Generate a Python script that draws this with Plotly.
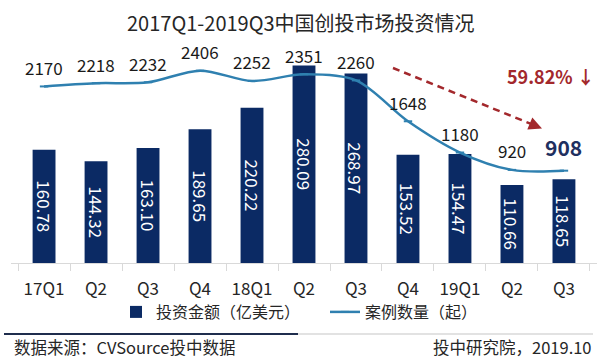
import plotly.graph_objects as go

# ---------------- data ----------------
categories = ["17Q1", "Q2", "Q3", "Q4", "18Q1", "Q2 ", "Q3 ", "Q4 ", "19Q1", "Q2  ", "Q3  "]
tick_labels = ["17Q1", "Q2", "Q3", "Q4", "18Q1", "Q2", "Q3", "Q4", "19Q1", "Q2", "Q3"]
invest_amount = [160.78, 144.32, 163.10, 189.65, 220.22, 280.09, 268.97, 153.52, 154.47, 110.66, 118.65]
deal_count = [2170, 2218, 2232, 2406, 2252, 2351, 2260, 1648, 1180, 920, 908]

title_text = "2017Q1-2019Q3中国创投市场投资情况"
bar_name = "投资金额（亿美元）"
line_name = "案例数量（起）"
drop_text = "59.82% ↓"
source_left = "数据来源：CVSource投中数据"
source_right = "投中研究院，2019.10"

# ---------------- layout geometry ----------------
W, H = 610, 360
L, R, T, B = 11, 13, 50, 97
PW, PH = W - L - R, H - T - B
FONT = "Noto Sans CJK SC, Noto Sans, sans-serif"

def px_x(p):
    return (p - L) / PW

def px_y(p):
    return (H - B - p) / PH

BAR_COLOR = "#0b2a64"
LINE_COLOR = "#2f80b0"
RED = "#a3282c"

fig = go.Figure()

fig.add_trace(go.Bar(
    x=categories, y=invest_amount, name=bar_name,
    marker=dict(color=BAR_COLOR, line=dict(width=0)),
    texttemplate="%{y:.2f}", textposition="inside", textangle=90,
    insidetextanchor="middle", constraintext="none",
    textfont=dict(color="white", size=17, family=FONT),
    yaxis="y", legend="legend",
))

fig.add_trace(go.Scatter(
    x=categories, y=deal_count, name=line_name, mode="lines+markers",
    line=dict(color=LINE_COLOR, width=2.5, shape="spline", smoothing=0.9),
    marker=dict(symbol="line-ew", size=6, line=dict(color=LINE_COLOR, width=2)),
    yaxis="y2", legend="legend2",
))

annotations = []
for i, (c, v) in enumerate(zip(categories, deal_count)):
    last = i == len(categories) - 1
    annotations.append(dict(
        x=c, y=v, xref="x", yref="y2", text=str(v), showarrow=False,
        yshift=24 if last else 19, yanchor="middle",
        font=dict(size=21 if last else 17, color="#1f3060" if last else "#1a1a1a",
                  family=FONT, weight="bold" if last else "normal"),
    ))

# drop annotation
annotations.append(dict(
    x=px_x(551), y=px_y(76), xref="paper", yref="paper", text=drop_text,
    showarrow=False, xanchor="center", yanchor="middle",
    font=dict(size=18, color=RED, family=FONT, weight="bold"),
))
# arrow head of the dashed arrow
annotations.append(dict(
    x=px_x(542), y=px_y(128.5), xref="paper", yref="paper", text="",
    showarrow=True, arrowhead=2, arrowsize=1.2, arrowwidth=2.2, arrowcolor=RED,
    ax=-11, ay=-4.5, standoff=0,
))
# title
annotations.append(dict(
    x=px_x(301), y=px_y(23), xref="paper", yref="paper", text=title_text,
    showarrow=False, xanchor="center", yanchor="middle",
    font=dict(size=20, color="#262626", family=FONT),
))
# source texts
annotations.append(dict(
    x=px_x(12), y=px_y(347), xref="paper", yref="paper", text=source_left,
    showarrow=False, xanchor="left", yanchor="middle",
    font=dict(size=16.5, color="#262626", family=FONT),
))
annotations.append(dict(
    x=px_x(594), y=px_y(347), xref="paper", yref="paper", text=source_right,
    showarrow=False, xanchor="right", yanchor="middle",
    font=dict(size=16.5, color="#262626", family=FONT),
))

shapes = [
    # dashed red trend line
    dict(type="line", xref="paper", yref="paper",
         x0=px_x(393), y0=px_y(68), x1=px_x(535), y1=px_y(125.5),
         line=dict(color=RED, width=2.5, dash="7px,5px")),
    # footer separator lines
    dict(type="line", xref="paper", yref="paper",
         x0=px_x(4), y0=px_y(334), x1=px_x(298), y1=px_y(334),
         line=dict(color="#1f2d4d", width=2)),
    dict(type="line", xref="paper", yref="paper",
         x0=px_x(298), y0=px_y(334), x1=px_x(593), y1=px_y(334),
         line=dict(color="#d9d9d9", width=1.5)),
]

y_top = PH / 0.705
y2_lo = (231.3 - (H - B)) / 0.06676
y2_hi = (231.3 - T) / 0.06676

legend_common = dict(orientation="h", yanchor="middle", xanchor="left",
                     font=dict(size=16, color="#262626", family=FONT), itemwidth=30,
                     bgcolor="rgba(0,0,0,0)", borderwidth=0)

fig.update_layout(
    width=W, height=H,
    margin=dict(l=L, r=R, t=T, b=B, pad=0),
    paper_bgcolor="white", plot_bgcolor="white",
    font=dict(family=FONT, color="#262626"),
    bargap=0.56,
    showlegend=True,
    legend=dict(x=px_x(116), y=px_y(312), **legend_common),
    legend2=dict(x=px_x(325), y=px_y(312), **legend_common),
    xaxis=dict(
        type="category", tickvals=categories, ticktext=tick_labels,
        showline=True, linecolor="#d9d9d9", linewidth=1,
        ticks="outside", tickson="boundaries", ticklen=7, tickcolor="#d9d9d9",
        tickfont=dict(size=17, color="#262626", family=FONT),
        ticklabelstandoff=11,
        showgrid=False, zeroline=False, fixedrange=True,
    ),
    yaxis=dict(range=[0, y_top], visible=False, showgrid=False, zeroline=False),
    yaxis2=dict(range=[y2_lo, y2_hi], overlaying="y", side="right", visible=False,
                showgrid=False, zeroline=False),
    annotations=annotations,
    shapes=shapes,
)

fig.write_html("out.html", config={"displayModeBar": False},
               post_script="document.body.style.margin='0';")
